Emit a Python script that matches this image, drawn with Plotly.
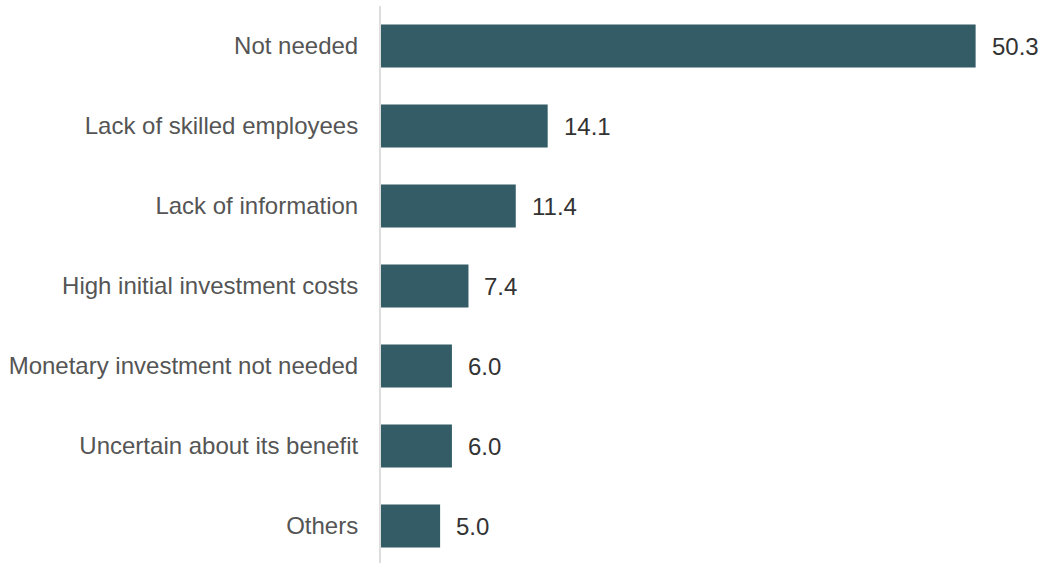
import plotly.graph_objects as go

categories = [
    "Not needed",
    "Lack of skilled employees",
    "Lack of information",
    "High initial investment costs",
    "Monetary investment not needed",
    "Uncertain about its benefit",
    "Others",
]
values = [50.3, 14.1, 11.4, 7.4, 6.0, 6.0, 5.0]
value_labels = [f"{v:.1f}" for v in values]

FONT = "Liberation Sans, Arial, sans-serif"

fig = go.Figure(
    go.Bar(
        x=values,
        y=categories,
        orientation="h",
        marker=dict(color="#335c67", line=dict(width=0)),
        width=0.54,
        hoverinfo="x+y",
    )
)

# value labels placed just to the right of each bar end
for cat, val, lab in zip(categories, values, value_labels):
    fig.add_annotation(
        x=val,
        y=cat,
        text=lab,
        showarrow=False,
        xanchor="left",
        yanchor="middle",
        xshift=14,
        font=dict(family=FONT, size=24, color="#333333"),
    )

fig.update_layout(
    width=1043,
    height=563,
    margin=dict(l=381, r=0, t=6, b=0),
    paper_bgcolor="white",
    plot_bgcolor="white",
    showlegend=False,
    font=dict(family=FONT, size=24, color="#555555"),
    xaxis=dict(
        range=[0, 56],
        showgrid=False,
        zeroline=False,
        showticklabels=False,
        showline=False,
    ),
    yaxis=dict(
        range=[6.4625, -0.5],
        showgrid=False,
        zeroline=False,
        showline=True,
        linecolor="#dddddd",
        linewidth=2,
        ticks="",
        ticklabelstandoff=16,
        tickfont=dict(family=FONT, size=24, color="#555555"),
    ),
)

fig.write_html("out.html")
